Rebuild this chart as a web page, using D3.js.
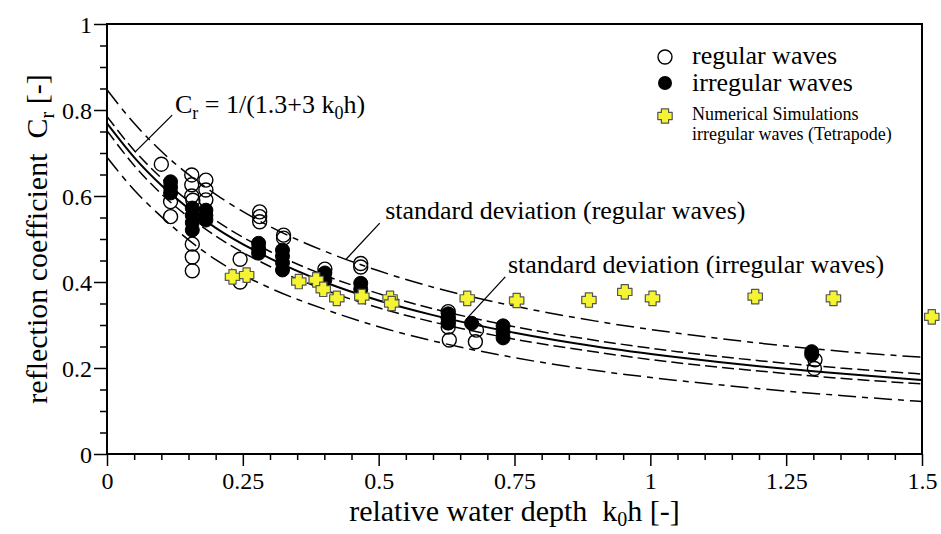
<!DOCTYPE html>
<html>
<head>
<meta charset="utf-8">
<script src="https://cdn.jsdelivr.net/npm/d3@7"></script>
<style>
  html, body { margin: 0; padding: 0; background: #fff; }
  svg { display: block; }
  svg text { font-family: "Liberation Serif", "Times New Roman", serif !important; fill: #000; }
</style>
</head>
<body>
<svg id="chart" width="941" height="534"></svg>
<script>
// ---------- data ----------
const xTickValues = [0, 0.25, 0.5, 0.75, 1, 1.25, 1.5];
const xTickLabels = ["0", "0.25", "0.5", "0.75", "1", "1.25", "1.5"];
const yTickValues = [0, 0.2, 0.4, 0.6, 0.8, 1];
const yTickLabels = ["0", "0.2", "0.4", "0.6", "0.8", "1"];

// curves
const curveX    = [0, 0.05, 0.1, 0.2, 0.3, 0.4, 0.5, 0.6, 0.75, 0.9, 1.05, 1.2, 1.35, 1.5];
const regUpper  = [0.847, 0.769, 0.704, 0.604, 0.529, 0.472, 0.426, 0.388, 0.344, 0.309, 0.281, 0.258, 0.239, 0.225];
const irrUpper  = [0.785, 0.706, 0.642, 0.543, 0.471, 0.416, 0.373, 0.338, 0.296, 0.264, 0.238, 0.217, 0.200, 0.186];
const meanCurve = [0.769, 0.690, 0.625, 0.526, 0.455, 0.400, 0.357, 0.323, 0.282, 0.250, 0.225, 0.204, 0.187, 0.172];
const irrLower  = [0.752, 0.671, 0.605, 0.507, 0.436, 0.382, 0.340, 0.307, 0.267, 0.237, 0.212, 0.193, 0.176, 0.163];
const regLower  = [0.690, 0.614, 0.552, 0.452, 0.386, 0.337, 0.296, 0.263, 0.224, 0.194, 0.171, 0.152, 0.136, 0.122];

// regular waves (open circles)
const regX = [0.100, 0.117, 0.117, 0.156, 0.156, 0.156, 0.158, 0.157, 0.157, 0.157,
              0.182, 0.182, 0.182, 0.245, 0.245, 0.281, 0.281, 0.281, 0.325, 0.325,
              0.401, 0.467, 0.467, 0.628, 0.628, 0.628, 0.628, 0.630, 0.680, 0.678,
              1.303, 1.302];
const regY = [0.674, 0.587, 0.552, 0.649, 0.626, 0.600, 0.590, 0.488, 0.458, 0.426,
              0.637, 0.614, 0.591, 0.453, 0.400, 0.563, 0.552, 0.540, 0.509, 0.502,
              0.430, 0.443, 0.435, 0.331, 0.318, 0.305, 0.295, 0.265, 0.288, 0.261,
              0.219, 0.199];

// irregular waves (filled circles)
const irrX = [0.117, 0.117, 0.117, 0.157, 0.157, 0.157, 0.157, 0.182, 0.182, 0.182,
              0.279, 0.279, 0.279, 0.323, 0.323, 0.323, 0.323, 0.401, 0.401, 0.467,
              0.467, 0.628, 0.628, 0.628, 0.671, 0.729, 0.729, 0.729, 1.297, 1.297];
const irrY = [0.633, 0.620, 0.607, 0.572, 0.555, 0.538, 0.521, 0.567, 0.555, 0.544,
              0.490, 0.478, 0.467, 0.474, 0.460, 0.445, 0.428, 0.421, 0.405, 0.397,
              0.383, 0.326, 0.315, 0.305, 0.304, 0.298, 0.284, 0.270, 0.238, 0.231];

// numerical simulations (yellow crosses)
const numX = [0.231, 0.257, 0.353, 0.385, 0.398, 0.423, 0.469, 0.521, 0.524, 0.663,
              0.754, 0.887, 0.953, 1.004, 1.193, 1.337, 1.518];
const numY = [0.412, 0.416, 0.401, 0.405, 0.383, 0.362, 0.366, 0.362, 0.350, 0.362,
              0.357, 0.358, 0.377, 0.362, 0.366, 0.362, 0.319];

// ---------- layout ----------
const svg = d3.select("#chart");
const pL = 107, pR = 922, pT = 24, pB = 454;
const x = d3.scaleLinear().domain([0, 1.5]).range([pL, pR]);
const y = d3.scaleLinear().domain([0, 1]).range([pB, pT]);

svg.append("rect").attr("width", 941).attr("height", 534).attr("fill", "#fff");

svg.append("defs").append("clipPath").attr("id", "plotclip")
  .append("rect").attr("x", pL).attr("y", pT)
  .attr("width", pR - pL).attr("height", pB - pT);

// ---------- curves ----------
const line = d3.line().x(d => x(d[0])).y(d => y(d[1])).curve(d3.curveMonotoneX);
const curves = [
  { v: regUpper,  dash: "18,6,6,6", w: 1.5 },
  { v: regLower,  dash: "18,6,6,6", w: 1.5 },
  { v: irrUpper,  dash: "12,5",     w: 1.5 },
  { v: irrLower,  dash: "12,5",     w: 1.5 },
  { v: meanCurve, dash: null,       w: 2 }
];
const cg = svg.append("g").attr("clip-path", "url(#plotclip)");
curves.forEach(c => {
  cg.append("path")
    .datum(curveX.map((xv, i) => [xv, c.v[i]]))
    .attr("d", line)
    .attr("fill", "none")
    .attr("stroke", "#000")
    .attr("stroke-width", c.w)
    .attr("stroke-dasharray", c.dash);
});

// ---------- axes ----------
const minorX = d3.range(0, 1.5001, 0.05).filter(v => Math.abs(v / 0.25 - Math.round(v / 0.25)) > 1e-6);
const minorY = d3.range(0, 1.0001, 0.05).filter(v => Math.abs(v / 0.2 - Math.round(v / 0.2)) > 1e-6);

const xAxis = svg.append("g").attr("transform", `translate(0,${pB})`)
  .call(d3.axisBottom(x).tickValues(xTickValues).tickSize(12).tickPadding(6)
        .tickFormat((d, i) => xTickLabels[i]));
const xMinor = svg.append("g").attr("transform", `translate(0,${pB})`)
  .call(d3.axisBottom(x).tickValues(minorX).tickSize(6).tickFormat(""));
const yAxis = svg.append("g").attr("transform", `translate(${pL},0)`)
  .call(d3.axisLeft(y).tickValues(yTickValues).tickSize(13).tickPadding(2)
        .tickFormat((d, i) => yTickLabels[i]));
const yMinor = svg.append("g").attr("transform", `translate(${pL},0)`)
  .call(d3.axisLeft(y).tickValues(minorY).tickSize(7).tickFormat(""));

[xAxis, xMinor, yAxis, yMinor].forEach(g => {
  g.attr("font-family", "Liberation Serif").attr("font-size", 24);
  g.select(".domain").remove();
  g.selectAll("line").attr("stroke", "#000").attr("stroke-width", 1.5);
  g.selectAll("text").style("font-family", "'Liberation Serif', serif").attr("font-size", 24).attr("fill", "#000");
});
xAxis.selectAll("text").attr("dy", "0.7em");
yAxis.selectAll("text").attr("dy", "0.35em");

// frame
svg.append("rect").attr("x", pL).attr("y", pT)
  .attr("width", pR - pL).attr("height", pB - pT)
  .attr("fill", "none").attr("stroke", "#000").attr("stroke-width", 2);

// ---------- points ----------
const pts = svg.append("g");
pts.selectAll("circle.reg").data(regX.map((v, i) => [v, regY[i]])).join("circle")
  .attr("class", "reg").attr("cx", d => x(d[0])).attr("cy", d => y(d[1])).attr("r", 7)
  .attr("fill", "none").attr("stroke", "#000").attr("stroke-width", 1.4);
pts.selectAll("circle.irr").data(irrX.map((v, i) => [v, irrY[i]])).join("circle")
  .attr("class", "irr").attr("cx", d => x(d[0])).attr("cy", d => y(d[1])).attr("r", 7)
  .attr("fill", "#000").attr("stroke", "#000").attr("stroke-width", 1);

const armA = 3.6, armE = 7.2;
const plusPath = `M${-armA},${-armE}H${armA}V${-armA}H${armE}V${armA}H${armA}V${armE}H${-armA}V${armA}H${-armE}V${-armA}H${-armA}Z`;
pts.selectAll("path.num").data(numX.map((v, i) => [v, numY[i]])).join("path")
  .attr("class", "num").attr("d", plusPath)
  .attr("transform", d => `translate(${x(d[0])},${y(d[1])})`)
  .attr("fill", "#f4f432").attr("stroke", "#555").attr("stroke-width", 1.2)
  .attr("stroke-linejoin", "round");

// ---------- annotations ----------
const ann = svg.append("g");
function pointer(x1, y1, x2, y2) {
  ann.append("line").attr("x1", x(x1)).attr("y1", y(y1)).attr("x2", x(x2)).attr("y2", y(y2))
    .attr("stroke", "#000").attr("stroke-width", 1.3);
}
// Cr formula
const t1 = ann.append("text").attr("x", x(0.125)).attr("y", y(0.793)).attr("font-size", 26);
t1.append("tspan").text("C");
t1.append("tspan").attr("font-size", 18).attr("dy", 6).text("r");
t1.append("tspan").attr("dy", -6).text(" = 1/(1.3+3 k");
t1.append("tspan").attr("font-size", 18).attr("dy", 6).text("0");
t1.append("tspan").attr("dy", -6).text("h)");
pointer(0.120, 0.788, 0.0515, 0.702);

ann.append("text").attr("x", x(0.512)).attr("y", y(0.547)).attr("font-size", 26)
  .text("standard deviation (regular waves)");
pointer(0.502, 0.537, 0.440, 0.453);

ann.append("text").attr("x", x(0.738)).attr("y", y(0.421)).attr("font-size", 26)
  .text("standard deviation (irregular waves)");
pointer(0.733, 0.412, 0.663, 0.316);

// ---------- axis titles ----------
const xt = svg.append("text").attr("x", (pL + pR) / 2).attr("y", 521)
  .attr("text-anchor", "middle").attr("font-size", 30);
xt.append("tspan").text("relative water depth\u00a0\u00a0k");
xt.append("tspan").attr("font-size", 20).attr("dy", 5).text("0");
xt.append("tspan").attr("dy", -5).text("h [-]");

const yt = svg.append("text").attr("transform", `translate(47,${(pT + pB) / 2}) rotate(-90)`)
  .attr("text-anchor", "middle").attr("font-size", 30);
yt.append("tspan").text("reflection coefficient\u00a0\u00a0C");
yt.append("tspan").attr("font-size", 20).attr("dy", 7).text("r");
yt.append("tspan").attr("dy", -7).text(" [-]");

// ---------- legend ----------
const lg = svg.append("g");
lg.append("circle").attr("cx", 665).attr("cy", 57).attr("r", 7)
  .attr("fill", "none").attr("stroke", "#000").attr("stroke-width", 1.4);
lg.append("text").attr("x", 692).attr("y", 64).attr("font-size", 26).text("regular waves");
lg.append("circle").attr("cx", 665).attr("cy", 83).attr("r", 7).attr("fill", "#000");
lg.append("text").attr("x", 692).attr("y", 91).attr("font-size", 26).text("irregular waves");
lg.append("path").attr("d", plusPath).attr("transform", "translate(665,116)")
  .attr("fill", "#f4f432").attr("stroke", "#555").attr("stroke-width", 1.2).attr("stroke-linejoin", "round");
lg.append("text").attr("x", 692).attr("y", 120).attr("font-size", 18).text("Numerical Simulations");
lg.append("text").attr("x", 692).attr("y", 140).attr("font-size", 18).text("irregular waves (Tetrapode)");
</script>
</body>
</html>
